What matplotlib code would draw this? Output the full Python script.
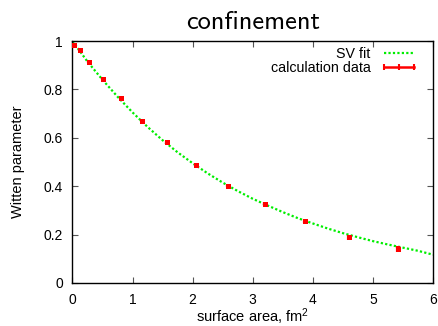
import matplotlib
matplotlib.use("Agg")
import matplotlib.pyplot as plt
from matplotlib.lines import Line2D

plt.rcParams['font.family'] = ['Liberation Sans', 'DejaVu Sans']
plt.rcParams['mathtext.default'] = 'regular'

# calculation data
area = [0.028, 0.122, 0.283, 0.51, 0.80, 1.15, 1.57, 2.05, 2.59, 3.20, 3.87, 4.61, 5.41]
witten = [0.983, 0.964, 0.913, 0.843, 0.763, 0.669, 0.581, 0.489, 0.402, 0.325, 0.256, 0.189, 0.139]
witten_err = [0.003, 0.003, 0.003, 0.004, 0.004, 0.005, 0.005, 0.006, 0.007, 0.008, 0.010, 0.011, 0.012]

# SV fit curve
fit_x = [0, 0.25, 0.5, 0.75, 1.0, 1.25, 1.5, 1.75, 2.0, 2.25, 2.5, 2.75, 3.0,
         3.25, 3.5, 3.75, 4.0, 4.25, 4.5, 4.75, 5.0, 5.25, 5.5, 5.75, 6.0]
fit_y = [1.0, 0.915, 0.840, 0.770, 0.705, 0.645, 0.590, 0.540, 0.495, 0.453, 0.415,
         0.380, 0.348, 0.320, 0.293, 0.268, 0.246, 0.225, 0.206, 0.189, 0.173,
         0.159, 0.146, 0.133, 0.117]

xticks = [0, 1, 2, 3, 4, 5, 6]
yticks = [0, 0.2, 0.4, 0.6, 0.8, 1]
yticklabels = ['0', '0.2', '0.4', '0.6', '0.8', '1']

fig = plt.figure(figsize=(4.38, 3.26), dpi=100)
ax = fig.add_axes([0.1655, 0.132, 0.8231, 0.742])

green = '#00ee00'
red = '#ff0000'

ax.plot(fit_x, fit_y, color=green, lw=1.6, linestyle=(0, (1, 1)), zorder=2)
ax.errorbar(area, witten, yerr=witten_err, fmt='s', color=red, ms=3.6, mew=0,
            elinewidth=3.0, capsize=0, zorder=3)

ax.set_xlim(0, 6)
ax.set_ylim(0, 1)
ax.set_xticks(xticks)
ax.set_xticklabels([str(t) for t in xticks])
ax.set_yticks(yticks)
ax.set_yticklabels(yticklabels)
ax.tick_params(direction='in', length=4, width=0.8, top=True, right=True,
               labelsize=10, color='#555555', pad=7)
for s in ax.spines.values():
    s.set_linewidth(1.0)
    s.set_color('black')

ax.set_xlabel(r'surface area, fm$^2$', fontsize=10.5, labelpad=-0.5)
ax.set_ylabel('Witten parameter', fontsize=10.5, labelpad=13)
ax.set_title('confinement', fontsize=19, family=['cmss10', 'DejaVu Sans'], pad=9)

handles = [Line2D([], [], color=green, lw=1.6, linestyle=(0, (1, 1))),
           Line2D([], [], color=red, lw=1.8, marker='|', ms=5, mew=1.5)]
ax.legend(handles, ['SV fit', 'calculation data'], loc='upper right',
          frameon=False, markerfirst=False, fontsize=10.3, numpoints=3,
          handlelength=2.75, handletextpad=0.6, labelspacing=0.0,
          borderaxespad=0.3, bbox_to_anchor=(0.988, 1.018))

fig.savefig('out.png', dpi=100)
